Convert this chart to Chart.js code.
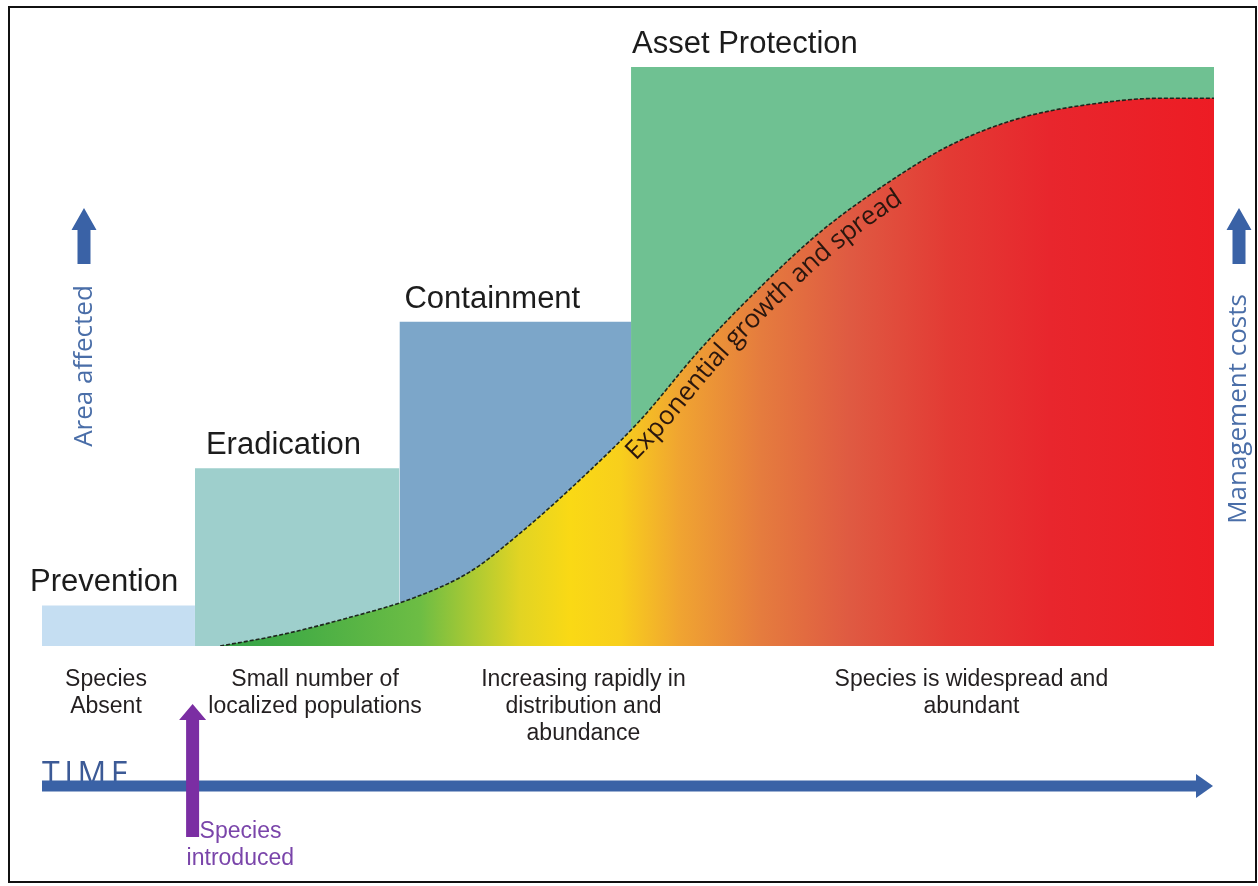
<!DOCTYPE html>
<html>
<head>
<meta charset="utf-8">
<script src="https://cdn.jsdelivr.net/npm/chart.js@4.4.1/dist/chart.umd.min.js"></script>
<style>
html,body{margin:0;padding:0;background:#ffffff;}
canvas{display:block;}
</style>
</head>
<body>
<canvas id="c" width="1258" height="886"></canvas>
<script>
// ---------------- DATA ----------------
// Management phases (x in time units 0..100, level in units 0..100)
const phaseNames  = ['Prevention', 'Eradication', 'Containment', 'Asset Protection'];
const phaseStart  = [0, 13.05, 30.5, 50.26];
const phaseEnd    = [13.05, 30.5, 50.26, 100];
const phaseLevel  = [7, 30.7, 56, 100];

// Invasion curve (area affected)
const curveX = [15.2, 20.3, 26.0, 31.7, 36.5, 40.8, 45.9, 51.0, 56.1, 61.3, 66.4, 71.5, 77.5, 83.5, 90.3, 95.4, 100];
const curveY = [0, 1.9, 4.8, 8.3, 12.8, 19.5, 28.7, 38.9, 51.1, 62.0, 71.5, 79.1, 86.5, 91.2, 93.8, 94.6, 94.6];
const curveLabel = 'Exponential growth and spread';

// Stage descriptions under the time axis
const stageLabels = [
  ['Species', 'Absent'],
  ['Small number of', 'localized populations'],
  ['Increasing rapidly in', 'distribution and', 'abundance'],
  ['Species is widespread and', 'abundant']
];
const stageAt = [5.46, 23.3, 46.2, 79.3];

const introducedAt = 12.85;
const introducedLabel = ['Species', 'introduced'];
const timeLabel = 'TIME';
const leftAxisLabel = 'Area affected';
const rightAxisLabel = 'Management costs';

// ---------------- STYLES ----------------
const phaseColors = ['#c5def2', '#9ecfcc', '#7ca6c9', '#6fc192'];
const phaseTitleDx = [-12, 11, 5, 1];
const gradStops = [
  [0.152, '#35a24a'], [0.22, '#46ad45'], [0.323, '#6dbd44'], [0.365, '#a8c934'],
  [0.408, '#e2d423'], [0.451, '#fad915'], [0.493, '#f8cf1c'], [0.544, '#f0a431'],
  [0.613, '#e57c3e'], [0.689, '#df5a42'], [0.775, '#e33a34'], [0.86, '#e8262d'], [1, '#ed1c24']
];
const BLUE = '#3a62a6';
const PURPLE = '#7b2ea3';

function curveFill(context) {
  const chart = context.chart;
  const area = chart.chartArea;
  if (!area) return '#e8262d';
  const g = chart.ctx.createLinearGradient(area.left, 0, area.right, 0);
  gradStops.forEach(s => g.addColorStop(s[0], s[1]));
  return g;
}

const datasets = [{
  label: 'Area affected',
  data: curveX.map((x, i) => ({x: x, y: curveY[i]})),
  cubicInterpolationMode: 'monotone',
  borderColor: '#1d261d',
  borderWidth: 1.6,
  borderDash: [4, 2],
  pointRadius: 0,
  fill: 'origin',
  backgroundColor: curveFill
}];
phaseNames.forEach((n, i) => {
  datasets.push({
    label: n,
    data: [{x: phaseStart[i], y: phaseLevel[i]}, {x: phaseEnd[i], y: phaseLevel[i]}],
    borderColor: 'rgba(0,0,0,0)',
    borderWidth: 0,
    pointRadius: 0,
    tension: 0,
    fill: 'origin',
    backgroundColor: phaseColors[i]
  });
});

function upArrow(ctx, cx, tipY, baseY, bottomY, shaftW, headW, color) {
  ctx.save();
  ctx.fillStyle = color;
  ctx.beginPath();
  ctx.moveTo(cx - shaftW / 2, bottomY);
  ctx.lineTo(cx - shaftW / 2, baseY);
  ctx.lineTo(cx - headW / 2, baseY);
  ctx.lineTo(cx, tipY);
  ctx.lineTo(cx + headW / 2, baseY);
  ctx.lineTo(cx + shaftW / 2, baseY);
  ctx.lineTo(cx + shaftW / 2, bottomY);
  ctx.closePath();
  ctx.fill();
  ctx.restore();
}

function curveSamples(chart) {
  const pts = chart.getDatasetMeta(0).data;
  const out = [];
  for (let i = 0; i < pts.length - 1; i++) {
    const a = pts[i], b = pts[i + 1];
    const c1x = a.cp2x ?? a.x, c1y = a.cp2y ?? a.y;
    const c2x = b.cp1x ?? b.x, c2y = b.cp1y ?? b.y;
    const N = 30;
    for (let k = 0; k < N; k++) {
      const t = k / N, u = 1 - t;
      out.push({
        x: u*u*u*a.x + 3*u*u*t*c1x + 3*u*t*t*c2x + t*t*t*b.x,
        y: u*u*u*a.y + 3*u*u*t*c1y + 3*u*t*t*c2y + t*t*t*b.y
      });
    }
  }
  const last = pts[pts.length - 1];
  out.push({x: last.x, y: last.y});
  let L = 0;
  out[0].s = 0;
  for (let i = 1; i < out.length; i++) {
    L += Math.hypot(out[i].x - out[i-1].x, out[i].y - out[i-1].y);
    out[i].s = L;
  }
  return out;
}
function pointAt(samples, s) {
  let i = 1;
  while (i < samples.length - 1 && samples[i].s < s) i++;
  const a = samples[i - 1], b = samples[i];
  const f = (b.s - a.s) > 0 ? (s - a.s) / (b.s - a.s) : 0;
  return {x: a.x + (b.x - a.x) * f, y: a.y + (b.y - a.y) * f, ang: Math.atan2(b.y - a.y, b.x - a.x)};
}

const decor = {
  id: 'decor',
  beforeDraw(chart) {
    const ctx = chart.ctx;
    ctx.save();
    ctx.fillStyle = '#ffffff';
    ctx.fillRect(0, 0, chart.width, chart.height);
    ctx.restore();
  },
  afterDatasetsDraw(chart) {
    const ctx = chart.ctx;
    const xs = chart.scales.x, ys = chart.scales.y;
    const area = chart.chartArea;

    // Curve label along the curve
    const samples = curveSamples(chart);
    const startPx = xs.getPixelForValue(49);
    let s = 0;
    for (const p of samples) { if (p.x >= startPx) { s = p.s; break; } }
    ctx.save();
    ctx.font = '26px "Open Sans", "Noto Sans", sans-serif';
    ctx.fillStyle = '#2a160e';
    ctx.textAlign = 'center';
    ctx.textBaseline = 'alphabetic';
    const off = 25;
    for (const ch of curveLabel) {
      const w = ctx.measureText(ch).width;
      const p = pointAt(samples, s + w / 2);
      const nx = -Math.sin(p.ang), ny = Math.cos(p.ang);
      ctx.save();
      ctx.translate(p.x + nx * off, p.y + ny * off);
      ctx.rotate(p.ang);
      ctx.fillText(ch, 0, 0);
      ctx.restore();
      s += w;
    }
    ctx.restore();

    // Phase titles
    ctx.save();
    ctx.font = '31px "Liberation Sans", Arial, sans-serif';
    ctx.fillStyle = '#1c1c1c';
    ctx.textAlign = 'left';
    ctx.textBaseline = 'alphabetic';
    phaseNames.forEach((n, i) => {
      ctx.fillText(n, xs.getPixelForValue(phaseStart[i]) + phaseTitleDx[i], ys.getPixelForValue(phaseLevel[i]) - 14);
    });
    ctx.restore();

    // Stage descriptions
    ctx.save();
    ctx.font = '23px "Liberation Sans", Arial, sans-serif';
    ctx.fillStyle = '#231f20';
    ctx.textAlign = 'center';
    ctx.textBaseline = 'alphabetic';
    stageLabels.forEach((lines, i) => {
      lines.forEach((t, j) => {
        ctx.fillText(t, xs.getPixelForValue(stageAt[i]), area.bottom + 40 + j * 27);
      });
    });
    ctx.restore();

    // Side axis labels with arrows
    upArrow(ctx, 84, 208, 230, 264, 13, 25, BLUE);
    upArrow(ctx, 1239, 208, 230, 264, 13, 25, BLUE);
    ctx.save();
    ctx.font = '26px "Open Sans", "Noto Sans", sans-serif';
    ctx.fillStyle = '#4a6ea8';
    ctx.textAlign = 'center';
    ctx.textBaseline = 'alphabetic';
    ctx.save();
    ctx.translate(92, 366);
    ctx.rotate(-Math.PI / 2);
    ctx.fillText(leftAxisLabel, 0, 0);
    ctx.restore();
    ctx.save();
    ctx.translate(1246, 409);
    ctx.rotate(-Math.PI / 2);
    ctx.fillText(rightAxisLabel, 0, 0);
    ctx.restore();
    ctx.restore();

    // TIME axis
    const tY = 786;
    ctx.save();
    ctx.font = '32px "Open Sans", "Noto Sans", sans-serif';
    ctx.letterSpacing = '4.5px';
    ctx.fillStyle = '#3c5a96';
    ctx.textAlign = 'left';
    ctx.fillText(timeLabel, xs.getPixelForValue(0), tY - 1);
    ctx.restore();
    ctx.save();
    ctx.fillStyle = BLUE;
    const x0 = xs.getPixelForValue(0), x1 = xs.getPixelForValue(100) - 1;
    ctx.fillRect(x0, tY - 5.5, x1 - 16 - x0, 11);
    ctx.beginPath();
    ctx.moveTo(x1 - 17, tY - 12);
    ctx.lineTo(x1, tY);
    ctx.lineTo(x1 - 17, tY + 12);
    ctx.closePath();
    ctx.fill();
    ctx.restore();

    // Species introduced arrow
    const ix = xs.getPixelForValue(introducedAt);
    upArrow(ctx, ix, 704, 720, 837, 13, 27, PURPLE);
    ctx.save();
    ctx.font = '23px "Liberation Sans", Arial, sans-serif';
    ctx.fillStyle = '#7a45aa';
    ctx.textAlign = 'left';
    ctx.fillText(introducedLabel[0], ix + 7, 838);
    ctx.fillText(introducedLabel[1], ix - 6, 865);
    ctx.restore();
  },
  afterDraw(chart) {
    const ctx = chart.ctx;
    ctx.save();
    ctx.strokeStyle = '#111111';
    ctx.lineWidth = 2;
    ctx.strokeRect(9, 7, 1247, 875);
    ctx.restore();
  }
};

new Chart(document.getElementById('c'), {
  type: 'line',
  data: {datasets: datasets},
  options: {
    responsive: false,
    animation: false,
    devicePixelRatio: 1,
    events: [],
    layout: {padding: {left: 42, right: 44, top: 67, bottom: 240}},
    scales: {
      x: {type: 'linear', min: 0, max: 100, display: false},
      y: {type: 'linear', min: 0, max: 100, display: false}
    },
    plugins: {legend: {display: false}, tooltip: {enabled: false}}
  },
  plugins: [decor]
});
</script>
</body>
</html>
